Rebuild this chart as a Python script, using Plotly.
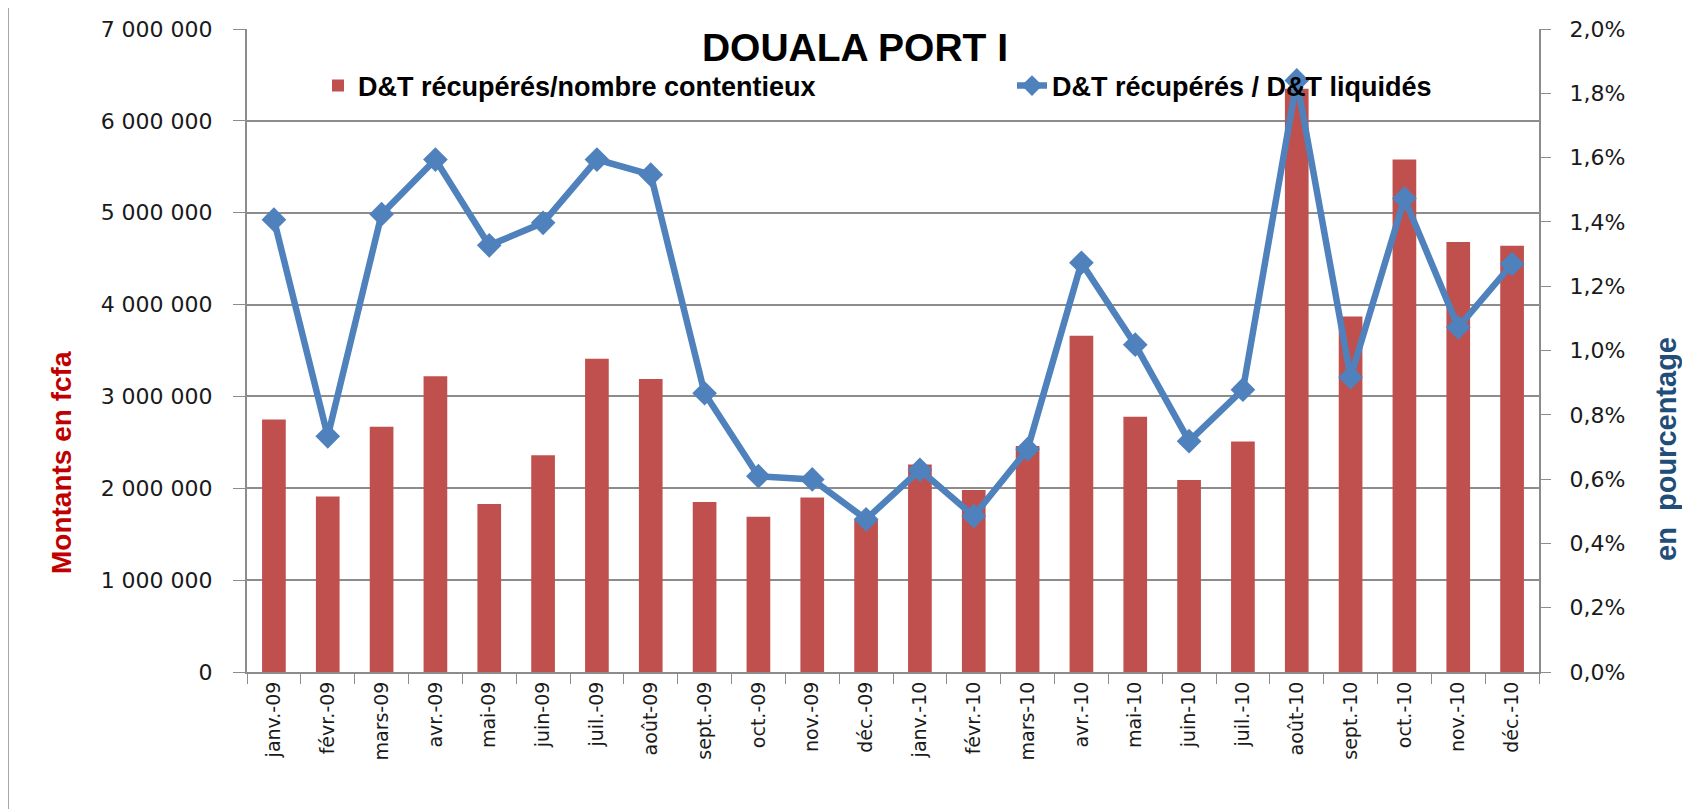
"""
Douala Port I: D&T récupérés par contentieux (barres) et taux récupérés / liquidés (ligne).
"""

import plotly.graph_objects as go

# Mois (axe des catégories)
MOIS = [
    "janv.-09", "févr.-09", "mars-09", "avr.-09", "mai-09", "juin-09",
    "juil.-09", "août-09", "sept.-09", "oct.-09", "nov.-09", "déc.-09",
    "janv.-10", "févr.-10", "mars-10", "avr.-10", "mai-10", "juin-10",
    "juil.-10", "août-10", "sept.-10", "oct.-10", "nov.-10", "déc.-10",
]

# D&T récupérés / nombre contentieux (fcfa)
MONTANTS = [
    2750000, 1910000, 2670000, 3220000, 1830000, 2360000,
    3410000, 3190000, 1850000, 1690000, 1900000, 1660000,
    2260000, 1980000, 2460000, 3660000, 2780000, 2090000,
    2510000, 6350000, 3870000, 5580000, 4680000, 4640000,
]

# D&T récupérés / D&T liquidés (fraction)
TAUX = [
    0.01407, 0.00733, 0.01424, 0.01594, 0.01327, 0.01397,
    0.01594, 0.01547, 0.00867, 0.00609, 0.00599, 0.00475,
    0.00629, 0.00485, 0.00693, 0.01273, 0.01018, 0.00718,
    0.00878, 0.01840, 0.00917, 0.01473, 0.01072, 0.01269,
]

ROUGE = "#C0504D"
BLEU = "#4F81BD"
GRIS = "#8C8C8C"
TEXTE = "#1A1A1A"

# la page HTML a une marge de 8 px : on travaille en coordonnées fenêtre
OFF = 8
W, H = 1690 - OFF, 809 - OFF
# zone de tracé (coordonnées fenêtre)
PL, PR, PT, PB = 247, 1539, 29, 672
PW, PH = PR - PL, PB - PT


def px_x(x):
    return (x - PL) / PW


def px_y(y):
    return (PB - y) / PH


fig = go.Figure()

fig.add_trace(go.Bar(
    x=MOIS,
    y=MONTANTS,
    name="<b>D&T récupérés/nombre contentieux</b>",
    marker=dict(color=ROUGE, line=dict(width=0)),
    yaxis="y",
    legend="legend",
))

fig.add_trace(go.Scatter(
    x=MOIS,
    y=TAUX,
    name="<b>D&T récupérés / D&T liquidés</b>",
    mode="lines+markers",
    line=dict(color=BLEU, width=6.5),
    marker=dict(symbol="diamond", size=19, color=BLEU),
    yaxis="y2",
    legend="legend2",
))

# Cadre gris autour de tout le graphique
fig.add_shape(
    type="rect", xref="paper", yref="paper",
    x0=px_x(8), x1=px_x(1700), y0=px_y(820), y1=px_y(7),
    line=dict(color="#A6A6A6", width=2),
)

# Titres des axes verticaux, placés comme dans l'original
fig.add_annotation(
    text="<b>Montants en fcfa</b>",
    xref="paper", yref="paper",
    x=px_x(61), y=px_y(463),
    xanchor="center", yanchor="middle",
    textangle=-90, showarrow=False,
    font=dict(family="Liberation Sans", size=28, color="#C00000"),
)
fig.add_annotation(
    text="<b>en  pourcentage</b>",
    xref="paper", yref="paper",
    x=px_x(1666), y=px_y(449),
    xanchor="center", yanchor="middle",
    textangle=-90, showarrow=False,
    font=dict(family="Liberation Sans", size=29, color="#1F4E79"),
)

legend_font = dict(family="Liberation Sans", size=27, color="black")

fig.update_layout(
    width=W,
    height=H,
    margin=dict(l=PL - OFF, r=W - (PR - OFF), t=PT - OFF, b=H - (PB - OFF),
                autoexpand=False),
    paper_bgcolor="white",
    plot_bgcolor="white",
    separators=", ",
    bargap=0.56,
    showlegend=True,
    font=dict(family="DejaVu Sans", color=TEXTE),
    title=dict(
        text="<b>DOUALA PORT I</b>",
        xref="paper", yref="paper",
        x=px_x(855), y=px_y(47),
        xanchor="center", yanchor="middle",
        font=dict(family="Liberation Sans", size=39, color="black"),
    ),
    legend=dict(
        visible=True,
        x=px_x(318), y=px_y(86),
        xanchor="left", yanchor="middle",
        bgcolor="rgba(0,0,0,0)",
        font=legend_font,
    ),
    legend2=dict(
        visible=True,
        x=px_x(1012), y=px_y(86),
        xanchor="left", yanchor="middle",
        bgcolor="rgba(0,0,0,0)",
        font=legend_font,
    ),
    xaxis=dict(
        type="category",
        range=[-0.5, len(MOIS) - 0.5],
        tickson="boundaries",
        ticks="outside",
        ticklen=10,
        tickcolor=GRIS,
        tickangle=-90,
        tickfont=dict(size=19, color=TEXTE),
        showline=True,
        linecolor=GRIS,
        linewidth=2,
        showgrid=False,
    ),
    yaxis=dict(
        range=[0, 7000000],
        dtick=1000000,
        tickformat=",d",
        ticks="outside",
        ticklen=12,
        tickcolor=GRIS,
        ticklabelstandoff=16,
        tickfont=dict(size=22, color=TEXTE),
        showline=True,
        linecolor=GRIS,
        linewidth=2,
        showgrid=True,
        gridcolor=GRIS,
        gridwidth=1.5,
        zeroline=False,
    ),
    yaxis2=dict(
        overlaying="y",
        side="right",
        range=[0, 0.02],
        dtick=0.002,
        tickformat=".1%",
        ticks="outside",
        ticklen=10,
        tickcolor=GRIS,
        ticklabelstandoff=14,
        tickfont=dict(size=22, color=TEXTE),
        showline=True,
        linecolor=GRIS,
        linewidth=2,
        showgrid=False,
        zeroline=False,
    ),
)

fig.write_html("out.html")
